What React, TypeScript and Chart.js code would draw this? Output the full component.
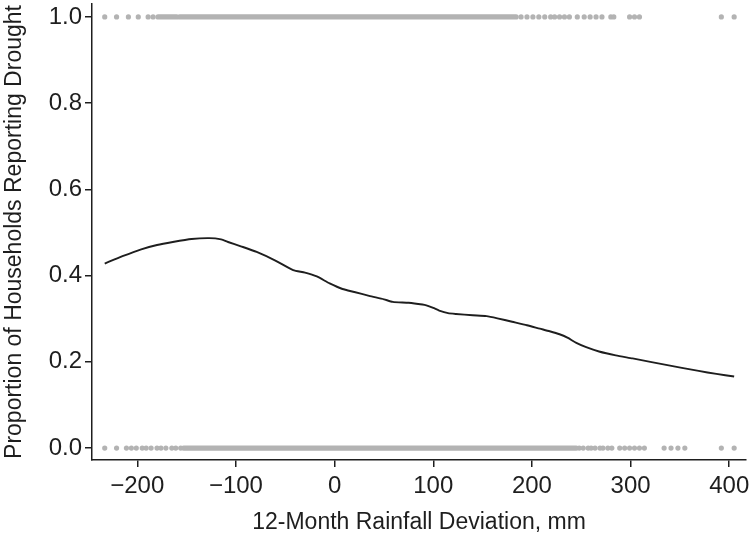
import React, { useEffect, useRef } from "react";
import { Chart, registerables } from "chart.js";

Chart.register(...registerables);

const xTicks = [-200, -100, 0, 100, 200, 300, 400];
const yTicks = [0, 0.2, 0.4, 0.6, 0.8, 1.0];

const curveX = [-233, -215, -196, -180, -164, -145, -127, -115, -108, -95, -79, -60, -42, -30, -18, -5, 8, 20, 35, 50, 59, 75, 89, 93, 100, 106, 115, 123, 140, 154, 165, 180, 195, 208, 218, 228, 236, 245, 255, 268, 285, 302, 320, 336, 352, 369, 387, 405];
const curveY = [0.428, 0.445, 0.461, 0.471, 0.478, 0.485, 0.487, 0.484, 0.478, 0.468, 0.455, 0.435, 0.413, 0.407, 0.398, 0.382, 0.369, 0.362, 0.353, 0.345, 0.339, 0.337, 0.333, 0.331, 0.325, 0.319, 0.313, 0.311, 0.308, 0.306, 0.301, 0.293, 0.285, 0.277, 0.271, 0.264, 0.256, 0.244, 0.234, 0.224, 0.215, 0.208, 0.2, 0.193, 0.186, 0.179, 0.172, 0.166];

// Rug of observations (x values) at y = 1 (reported drought) and y = 0
const topRugX = [-233, -221, -209, -199, -189, -184, 189, 195, 201, 207, 213, 219, 223, 228, 233, 238, 246, 253, 259, 265, 271, 280, 283, 299, 304, 309, 392, 405];
const topRugBands = [[-179, -160], [-157, 184]];
const bottomRugX = [-233, -221, -211, -206, -201, -195, -191, -186, -180, -176, -171, -165, -161, -156, 248, 252, 257, 260, 264, 269, 272, 277, 281, 289, 294, 299, 304, 309, 314, 334, 341, 348, 355, 392, 405];
const bottomRugBands = [[-153, 245]];

const RUG = "#b3b3b3";
const INK = "#1e1e1e";
const FONT = '"Liberation Sans", Arial, Helvetica, sans-serif';

function fmtX(v: number) {
  return v < 0 ? "\u2212" + Math.abs(v) : String(v);
}

export default function App() {
  const ref = useRef<HTMLCanvasElement>(null);

  useEffect(() => {
    document.body.style.margin = "0";
    const datasets: any[] = [];
    const addBands = (bands: number[][], y: number) => {
      bands.forEach((b) => {
        datasets.push({
          data: [{ x: b[0], y }, { x: b[1], y }],
          showLine: true,
          borderColor: RUG,
          borderWidth: 5.2,
          borderCapStyle: "round",
          pointRadius: 0,
        });
      });
    };
    addBands(topRugBands, 1);
    addBands(bottomRugBands, 0);
    datasets.push({
      data: topRugX.map((x) => ({ x, y: 1 })),
      pointRadius: 2.6,
      backgroundColor: RUG,
      borderWidth: 0,
    });
    datasets.push({
      data: bottomRugX.map((x) => ({ x, y: 0 })),
      pointRadius: 2.6,
      backgroundColor: RUG,
      borderWidth: 0,
    });
    datasets.push({
      data: curveX.map((x, i) => ({ x, y: curveY[i] })),
      showLine: true,
      borderColor: INK,
      borderWidth: 1.9,
      pointRadius: 0,
      tension: 0.2,
    });

    const chart = new Chart(ref.current!, {
      type: "scatter",
      data: { datasets },
      options: {
        responsive: false,
        animation: false,
        devicePixelRatio: 1,
        layout: { padding: { left: 0, right: 3, top: 0, bottom: 0 } },
        plugins: { legend: { display: false }, tooltip: { enabled: false } },
        scales: {
          x: {
            type: "linear",
            min: -245.9,
            max: 417,
            afterBuildTicks: (s: any) => {
              s.ticks = xTicks.map((v) => ({ value: v }));
            },
            afterFit: (s: any) => {
              s.height = 76;
              s.paddingLeft = 0;
              s.paddingRight = 0;
            },
            ticks: {
              callback: (v: any) => fmtX(Number(v)),
              font: { family: FONT, size: 24 },
              color: INK,
              padding: 5,
              maxRotation: 0,
              autoSkip: false,
            },
            grid: { drawOnChartArea: false, drawTicks: true, tickLength: 7, color: INK, lineWidth: 1.5 },
            border: { display: true, color: INK, width: 1.5 },
            title: {
              display: true,
              text: "12-Month Rainfall Deviation, mm",
              font: { family: FONT, size: 23 },
              color: INK,
              padding: 0,
            },
          },
          y: {
            type: "linear",
            min: -0.0276,
            max: 1.0299,
            afterBuildTicks: (s: any) => {
              s.ticks = yTicks.map((v) => ({ value: v }));
            },
            afterFit: (s: any) => {
              s.width = 92;
              s.paddingTop = 0;
              s.paddingBottom = 0;
            },
            ticks: {
              callback: (v: any) => Number(v).toFixed(1),
              font: { family: FONT, size: 24 },
              color: INK,
              padding: 3,
              autoSkip: false,
            },
            grid: { drawOnChartArea: false, drawTicks: true, tickLength: 7, color: INK, lineWidth: 1.5 },
            border: { display: true, color: INK, width: 1.5 },
            title: {
              display: true,
              text: "Proportion of Households Reporting Drought",
              font: { family: FONT, size: 23 },
              color: INK,
              padding: { top: 1, bottom: 0 },
            },
          },
        },
      },
    });
    return () => chart.destroy();
  }, []);

  return (
    <div style={{ position: "absolute", left: 0, top: 0, width: 750, height: 536, background: "#fff" }}>
      <canvas ref={ref} width={750} height={536} />
    </div>
  );
}
